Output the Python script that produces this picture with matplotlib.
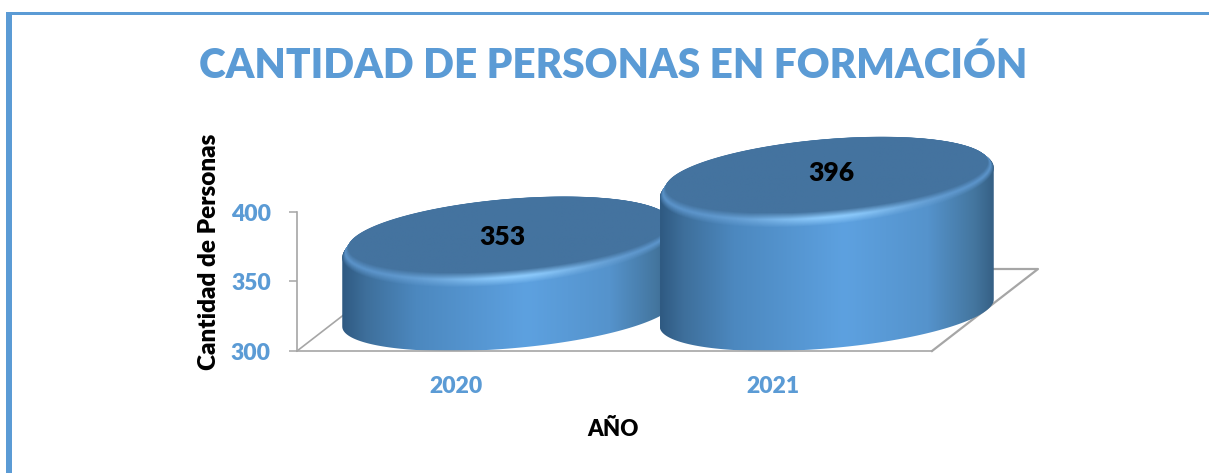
import numpy as np
import matplotlib
matplotlib.use("Agg")  # headless
import matplotlib.pyplot as plt
from matplotlib.colors import LinearSegmentedColormap, to_rgb
from matplotlib.patches import Polygon, Rectangle
from matplotlib.transforms import Affine2D

years = ["2020", "2021"]
people = [353, 396]
y_ticks = [300, 350, 400]

title = "CANTIDAD DE PERSONAS EN FORMACIÓN"
x_title = "AÑO"
y_title = "Cantidad de Personas"

W, H = 1209, 473
BLUE = "#5B9BD5"
FACE = "#44739F"
GLOW = "#8CCAFC"
RIM = "#5A92C8"
GRID = "#A6A6A6"

plt.rcParams["font.family"] = ["Lato", "DejaVu Sans"]
plt.rcParams["font.weight"] = 800
plt.rcParams["axes.labelweight"] = 800

fig = plt.figure(figsize=(W / 100 + 1e-6, H / 100 + 1e-6), dpi=100)
# image pixels (y down) -> display
to_px = Affine2D().scale(1, -1).translate(0, H)

# plot box: x 297..932, y 212..351 in image pixels
ax = fig.add_axes([297 / W, 1 - 351 / H, (932 - 297) / W, (351 - 212) / H])
ax.patch.set_alpha(0)
PX_X = (932 - 297) / 2.0   # pixels per category
PX_Y = (351 - 212) / 100.0  # pixels per unit


def dx(px):
    return px / PX_X


def dy(px):
    return px / PX_Y


def ellipse(cx, cy, a, b, s, t):
    # tilted ellipse, right end higher than left end
    return np.column_stack([cx + a * np.cos(t), cy + b * np.sin(t) + s * np.cos(t)])


body_cmap = LinearSegmentedColormap.from_list("body", [
    (0.00, "#2F5A82"), (0.07, "#3E6F9B"), (0.22, "#4C88BF"), (0.55, "#5DA1E0"),
    (0.80, "#5593CC"), (0.94, "#44769F"), (1.00, "#355F84"),
])


def gradient_fill(pts, cx, half_w, weight=None, zorder=3):
    u = np.linspace(0, 1, 256)
    col = body_cmap(u)[:, :3]
    if weight is not None:
        # rim colour, lit towards the middle of the front edge
        bell = np.exp(-((u - 0.52) / 0.24) ** 2)[:, None]
        lit = np.array(to_rgb(RIM)) * (1 - bell) + np.array(to_rgb(GLOW)) * bell
        col = col * (1 - weight[0]) + lit * weight[0]
        col = col * (1 - weight[1]) + np.array(to_rgb(FACE)) * weight[1]
    im = ax.imshow(col[None, :, :], extent=[cx - half_w, cx + half_w, pts[:, 1].min(), pts[:, 1].max()],
                   aspect="auto", interpolation="bilinear", zorder=zorder)
    clip = Polygon(pts, closed=True, transform=ax.transData)
    im.set_clip_path(clip)
    im.set_clip_box(fig.bbox)


def draw_cylinder(i, value, zorder):
    cx = i + dx(53.5)
    top = value + dy(34.5)
    bottom = 300 + dy(38)
    half_w = dx(167)

    t_back = np.linspace(0, np.pi, 120)
    t_front = np.linspace(np.pi, 2 * np.pi, 120)
    side = np.vstack([
        ellipse(cx, top, half_w, dy(42.4), dy(15), t_back),
        ellipse(cx, bottom, half_w, dy(35.5), dy(13.5), t_front),
    ])
    gradient_fill(side, cx, half_w, zorder=zorder)

    # rounded rim going from the side colour over a highlight into the flat top
    t_all = np.linspace(0, 2 * np.pi, 240)
    for k in np.linspace(0, 1, 16):
        pts = ellipse(cx, top + dy(8) * k, half_w * (1 - 0.035 * k),
                      dy(42.4 - 6.4 * k), dy(15 - 2 * k), t_all)
        glow = min(k / 0.5, 1.0)
        to_face = max((k - 0.55) / 0.45, 0.0)
        gradient_fill(pts, cx, half_w, weight=(glow, to_face), zorder=zorder + 0.01 + 0.01 * k)


# floor of the 3D box, behind the cylinders
floor_dx, floor_dy = dx(106), dy(82)
ax.plot([1.5, 1.5 + floor_dx, -0.5 + floor_dx], [300, 300 + floor_dy, 300 + floor_dy],
        color=GRID, lw=1.6, clip_on=False, zorder=1)
ax.plot([-0.5, -0.5 + floor_dx], [300, 300 + floor_dy], color=GRID, lw=1.2, clip_on=False, zorder=1)

for i, v in enumerate(people):
    draw_cylinder(i, v, 3 + i)

# value labels sit on the top faces
label_shift = [(47, 40), (58, 45)]
for i, v in enumerate(people):
    ax.annotate(str(v), (i, v), xytext=label_shift[i], textcoords="offset pixels",
                ha="center", va="center", fontsize=19, color="black", zorder=10,
                annotation_clip=False)

ax.set_xlim(-0.5, 1.5)
ax.set_ylim(300, 400)
ax.set_xticks(range(len(years)))
ax.set_xticklabels(years, fontsize=16.5, color=BLUE)
ax.set_yticks(y_ticks)
ax.set_yticklabels([str(v) for v in y_ticks], fontsize=16.5, color=BLUE)
ax.tick_params(axis="x", length=0, pad=18)
ax.tick_params(axis="y", length=5.8, width=1.1, color=GRID, pad=13)
for name in ("top", "right"):
    ax.spines[name].set_visible(False)
for name in ("left", "bottom"):
    ax.spines[name].set_color(GRID)
    ax.spines[name].set_linewidth(1.2)
    ax.spines[name].set_zorder(2)
ax.spines["bottom"].set_zorder(7)

ax.set_xlabel(x_title, fontsize=16, color="black")
ax.xaxis.set_label_coords(613, 429, transform=to_px)
ax.xaxis.label.set_va("center")
ax.set_ylabel(y_title, fontsize=17.5, color="black")
ax.yaxis.set_label_coords(209, 252, transform=to_px)
ax.yaxis.label.set_va("center")

fig.text(613.5, 65, title, transform=to_px, ha="center", va="center", fontsize=29.2, color=BLUE)

# frame pieces of the slide
fig.add_artist(Rectangle((6, 12), W - 6, 3, transform=to_px, color=BLUE, lw=0))
fig.add_artist(Rectangle((6, 12), 5.5, H - 12, transform=to_px, color=BLUE, lw=0))

plt.savefig("out.png", dpi=100)
print("Saved out.png")
